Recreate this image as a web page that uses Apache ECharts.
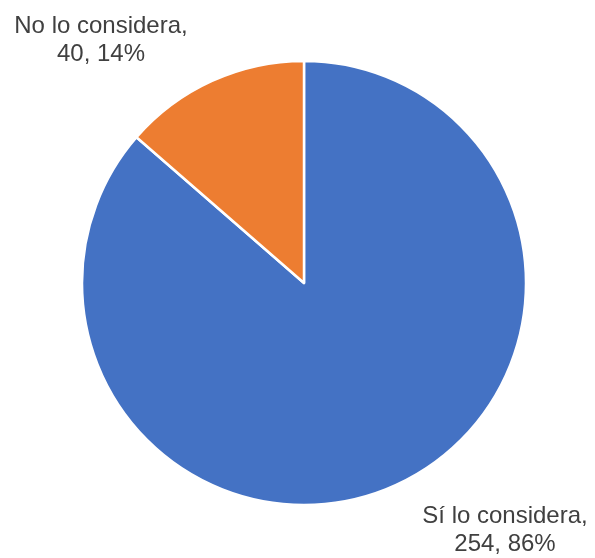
<!DOCTYPE html>
<html>
<head>
<meta charset="utf-8">
<script src="https://cdn.jsdelivr.net/npm/echarts@6/dist/echarts.min.js"></script>
<style>
  html, body { margin: 0; padding: 0; background: #ffffff; }
  #chart { width: 595px; height: 558px; }
</style>
</head>
<body>
<div id="chart"></div>
<script>
// Answers to "¿Lo considera?"
const categories = ['Sí lo considera', 'No lo considera'];
const counts = [254, 40];
const sliceColors = ['#4472C4', '#ED7D31'];

// Where each category's label block is centred
const labelSpots = [[505, 530], [101, 40]];

const chart = echarts.init(document.getElementById('chart'), null, { renderer: 'canvas' });

chart.setOption({
  animation: false,
  series: [{
    type: 'pie',
    center: [304, 283],
    radius: [0, 222],
    startAngle: 90,
    clockwise: true,
    data: categories.map((name, i) => ({
      name: name,
      value: counts[i],
      itemStyle: { color: sliceColors[i] }
    })),
    itemStyle: { borderColor: '#ffffff', borderWidth: 2.5 },
    label: {
      show: true,
      formatter: p => p.name + ',\n' + p.value + ', ' + Math.round(p.percent) + '%',
      fontFamily: 'Liberation Sans, Arial, sans-serif',
      fontSize: 24,
      lineHeight: 28,
      color: '#404040',
      align: 'center',
      overflow: 'none',
      width: 300
    },
    labelLine: { show: false },
    labelLayout: params => ({
      x: labelSpots[params.dataIndex][0],
      y: labelSpots[params.dataIndex][1],
      align: 'center',
      verticalAlign: 'middle',
      width: 300
    })
  }]
});
</script>
</body>
</html>
